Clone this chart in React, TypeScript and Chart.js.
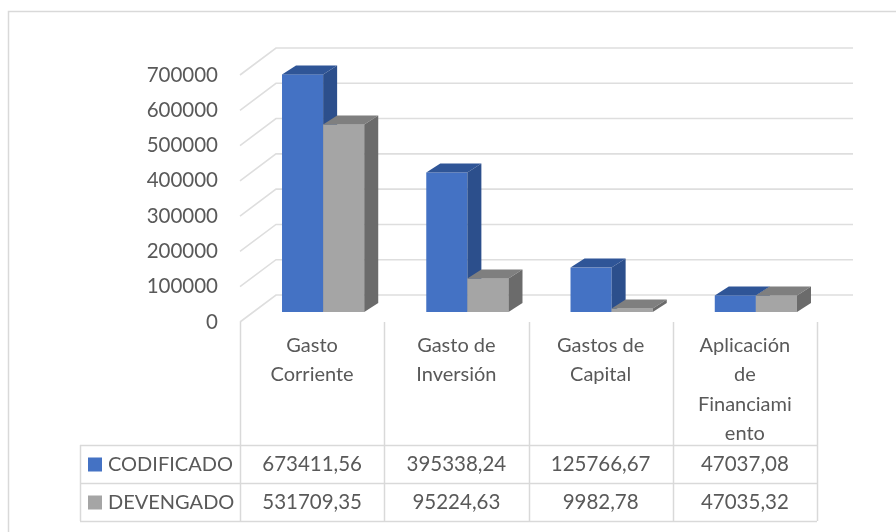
import React, { useEffect, useRef } from "react";
import { Chart, registerables } from "chart.js";

Chart.register(...registerables);

// ---- data ----
const categories = ["Gasto Corriente", "Gasto de Inversión", "Gastos de Capital", "Aplicación de Financiamiento"];
const categoryLines = [["Gasto", "Corriente"], ["Gasto de", "Inversión"], ["Gastos de", "Capital"], ["Aplicación", "de", "Financiami", "ento"]];
const seriesNames = ["CODIFICADO", "DEVENGADO"];
const codificado = [673411.56, 395338.24, 125766.67, 47037.08];
const devengado = [531709.35, 95224.63, 9982.78, 47035.32];
const yMin = 0;
const yMax = 700000;
const yStep = 100000;

// ---- styles ----
const FONT = "Lato, 'Open Sans', sans-serif";
const TEXT = "#595959";
const LINE = "#d9d9d9";
const colors = [
  { front: "#4472C4", top: "#2F5597", side: "#2C4F8C" },
  { front: "#A5A5A5", top: "#7F7F7F", side: "#6B6B6B" },
];
const WALL_DX = 36, WALL_DY = 27;
const BAR_DX = 11, BAR_DY = 10;
const DEPTH_DX = 14, DEPTH_DY = 9;
const TABLE_LEFT = 80, TABLE_TOP = 445, ROW_H = 38;

const threeD = {
  id: "threeD",
  afterDraw(chart: any) {
    const ctx = chart.ctx as CanvasRenderingContext2D;
    const { left, right, bottom } = chart.chartArea;
    const ys = chart.scales.y;
    const n = categories.length;
    const cw = (right - left) / n;
    ctx.save();

    // outer frame
    ctx.strokeStyle = LINE;
    ctx.lineWidth = 1.5;
    ctx.beginPath();
    ctx.moveTo(8.5, 532);
    ctx.lineTo(8.5, 11.5);
    ctx.lineTo(896, 11.5);
    ctx.stroke();

    // walls gridlines
    ctx.strokeStyle = "#dedede";
    ctx.lineWidth = 1.6;
    ys.ticks.forEach((t: any) => {
      const py = ys.getPixelForValue(t.value);
      ctx.beginPath();
      ctx.moveTo(left, py);
      ctx.lineTo(left + WALL_DX, py - WALL_DY);
      ctx.lineTo(right + WALL_DX, py - WALL_DY);
      ctx.stroke();
    });

    // bars
    for (let d = 0; d < 2; d++) {
      const meta = chart.getDatasetMeta(d);
      const c = colors[d];
      meta.data.forEach((el: any) => {
        const { x, y, base, width } = el.getProps(["x", "y", "base", "width"], true);
        const l = x - width / 2 + BAR_DX;
        const r = x + width / 2 + BAR_DX;
        const t = y - BAR_DY;
        const b = base - BAR_DY;
        ctx.fillStyle = c.front;
        ctx.fillRect(l, t, r - l, b - t);
        ctx.fillStyle = c.top;
        ctx.beginPath();
        ctx.moveTo(l, t);
        ctx.lineTo(r, t);
        ctx.lineTo(r + DEPTH_DX, t - DEPTH_DY);
        ctx.lineTo(l + DEPTH_DX, t - DEPTH_DY);
        ctx.closePath();
        ctx.fill();
        ctx.fillStyle = c.side;
        ctx.beginPath();
        ctx.moveTo(r, t);
        ctx.lineTo(r + DEPTH_DX, t - DEPTH_DY);
        ctx.lineTo(r + DEPTH_DX, b - DEPTH_DY);
        ctx.lineTo(r, b);
        ctx.closePath();
        ctx.fill();
      });
    }

    // table lines
    const tableBottom = TABLE_TOP + ROW_H * 2;
    ctx.strokeStyle = LINE;
    ctx.lineWidth = 1.5;
    for (let i = 0; i <= n; i++) {
      const bx = Math.round(left + i * cw) + 0.5;
      ctx.beginPath();
      ctx.moveTo(bx, bottom);
      ctx.lineTo(bx, tableBottom);
      ctx.stroke();
    }
    ctx.beginPath();
    ctx.moveTo(TABLE_LEFT + 0.5, TABLE_TOP);
    ctx.lineTo(TABLE_LEFT + 0.5, tableBottom);
    ctx.stroke();
    for (let k = 0; k <= 2; k++) {
      const hy = TABLE_TOP + k * ROW_H + 0.5;
      ctx.beginPath();
      ctx.moveTo(TABLE_LEFT, hy);
      ctx.lineTo(right, hy);
      ctx.stroke();
    }

    // category labels
    ctx.fillStyle = TEXT;
    ctx.font = `20px ${FONT}`;
    ctx.textAlign = "center";
    ctx.textBaseline = "middle";
    categoryLines.forEach((lines, i) => {
      const cx = left + (i + 0.5) * cw;
      lines.forEach((s, k) => ctx.fillText(s, cx, 345.5 + k * 29.3));
    });

    // table rows
    const rows = [codificado, devengado];
    rows.forEach((vals, r) => {
      const cy = TABLE_TOP + r * ROW_H + ROW_H / 2 + 0.5;
      ctx.fillStyle = colors[r].front;
      ctx.fillRect(88, cy - 7, 14, 14);
      ctx.fillStyle = TEXT;
      ctx.textAlign = "left";
      ctx.fillText(seriesNames[r], 108, cy);
      ctx.textAlign = "center";
      ctx.font = `20.5px ${FONT}`;
      vals.forEach((v, i) => {
        const cx = left + (i + 0.5) * cw;
        ctx.fillText(v.toFixed(2).replace(".", ","), cx, cy);
      });
      ctx.font = `20px ${FONT}`;
    });

    ctx.restore();
  },
};

export default function App() {
  const ref = useRef<HTMLCanvasElement>(null);
  useEffect(() => {
    if (!ref.current) return;
    const chart = new Chart(ref.current, {
      type: "bar",
      data: {
        labels: categories,
        datasets: [
          { label: seriesNames[0], data: codificado, backgroundColor: "rgba(0,0,0,0)" },
          { label: seriesNames[1], data: devengado, backgroundColor: "rgba(0,0,0,0)" },
        ],
      },
      options: {
        animation: false,
        responsive: false,
        events: [],
        layout: { padding: { left: 0, top: 75, right: 79, bottom: 210 } },
        datasets: { bar: { categoryPercentage: 0.57, barPercentage: 1 } },
        plugins: { legend: { display: false }, tooltip: { enabled: false } },
        scales: {
          x: { display: false, offset: true },
          y: {
            min: yMin,
            max: yMax,
            border: { display: false },
            grid: { display: false, drawTicks: false },
            ticks: {
              stepSize: yStep,
              padding: 22,
              color: TEXT,
              font: { family: FONT, size: 20.5 },
              callback: (v: any) => String(v),
            },
            afterFit: (s: any) => { s.width = 240; },
          },
        },
      },
      plugins: [threeD],
    });
    return () => chart.destroy();
  }, []);
  return (
    <div style={{ position: "absolute", left: 0, top: 0, width: 896, height: 532, background: "#fff" }}>
      <canvas ref={ref} width={896} height={532} style={{ display: "block" }} />
    </div>
  );
}
